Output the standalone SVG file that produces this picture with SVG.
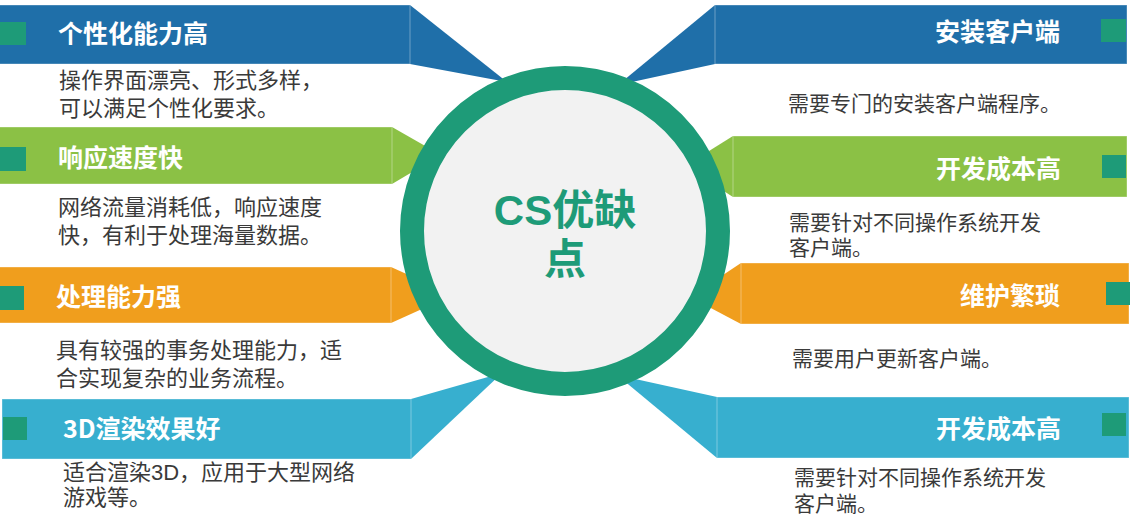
<svg xmlns="http://www.w3.org/2000/svg" width="1132" height="516" viewBox="0 0 1132 516">
<style>
.t{font-family:"Noto Sans CJK SC","Noto Sans",sans-serif;font-weight:700;font-size:25px;fill:#fff}
.d{font-family:"Liberation Sans","Noto Sans CJK SC",sans-serif;font-size:22px;fill:#3a3a3a}
.dr{font-family:"Liberation Sans","Noto Sans CJK SC",sans-serif;font-size:21px;fill:#3a3a3a}
.sq{fill:#1e9b78}
.blue{fill:#1f6fa9}
.green{fill:#8bc145}
.orange{fill:#f09e1d}
.cyan{fill:#37afcf}
.bar{stroke:#ffffff;stroke-opacity:0.35;stroke-width:1}
.c{font-family:"Liberation Sans","Noto Sans CJK SC",sans-serif;font-weight:700;font-size:42px;fill:#1e9b78}
</style>
<rect width="1132" height="516" fill="#ffffff"/>
<g id="connectors">
<polygon class="blue" points="410,5 507,82 410,64"/>
<polygon class="green" points="392,127 441,155 392,184"/>
<polygon class="orange" points="391,267 453,295 391,323"/>
<polygon class="cyan" points="411,399 502,373 411,459"/>
<polygon class="blue" points="715,5 618,85 715,64"/>
<polygon class="green" points="733,136 685,166 733,197"/>
<polygon class="orange" points="741,263 690,297 741,324"/>
<polygon class="cyan" points="717,397 617,375 717,458"/>
</g>
<g id="left1">
<rect class="blue bar" x="-1" y="5" width="411" height="59"/>
<rect class="sq" x="0" y="22" width="26" height="23"/>
<text class="t" x="58" y="43">个性化能力高</text>
<text class="d"><tspan x="59" y="88">操作界面漂亮、形式多样，</tspan><tspan x="59" y="116">可以满足个性化要求。</tspan></text>
</g>
<g id="left2">
<rect class="green bar" x="-1" y="127" width="393" height="57"/>
<rect class="sq" x="0" y="147" width="26" height="24"/>
<text class="t" x="58" y="167">响应速度快</text>
<text class="d"><tspan x="58" y="215">网络流量消耗低，响应速度</tspan><tspan x="58" y="243">快，有利于处理海量数据。</tspan></text>
</g>
<g id="left3">
<rect class="orange bar" x="-1" y="267" width="392" height="56"/>
<rect class="sq" x="0" y="286" width="24" height="24"/>
<text class="t" x="56" y="306">处理能力强</text>
<text class="d"><tspan x="56" y="358">具有较强的事务处理能力，适</tspan><tspan x="56" y="386">合实现复杂的业务流程。</tspan></text>
</g>
<g id="left4">
<rect class="cyan bar" x="2" y="399" width="409" height="60"/>
<rect class="sq" x="3" y="417" width="24" height="23"/>
<text class="t" x="63" y="438">3D渲染效果好</text>
<text class="d"><tspan x="63" y="480">适合渲染3D，应用于大型网络</tspan><tspan x="63" y="505">游戏等。</tspan></text>
</g>
<g id="right1">
<rect class="blue bar" x="715" y="5" width="412" height="59"/>
<rect class="sq" x="1101" y="19" width="25" height="23"/>
<text class="t" x="1060" y="41" text-anchor="end">安装客户端</text>
<text class="dr" x="788" y="111">需要专门的安装客户端程序。</text>
</g>
<g id="right2">
<rect class="green bar" x="733" y="136" width="394" height="61"/>
<rect class="sq" x="1102" y="155" width="24" height="23"/>
<text class="t" x="1061" y="178" text-anchor="end">开发成本高</text>
<text class="dr"><tspan x="789" y="230">需要针对不同操作系统开发</tspan><tspan x="789" y="255">客户端。</tspan></text>
</g>
<g id="right3">
<rect class="orange bar" x="741" y="263" width="388" height="61"/>
<rect class="sq" x="1106" y="282" width="24" height="23"/>
<text class="t" x="1060" y="305" text-anchor="end">维护繁琐</text>
<text class="dr" x="792" y="366">需要用户更新客户端。</text>
</g>
<g id="right4">
<rect class="cyan bar" x="717" y="397" width="412" height="61"/>
<rect class="sq" x="1102" y="413" width="24" height="23"/>
<text class="t" x="1061" y="438" text-anchor="end">开发成本高</text>
<text class="dr"><tspan x="794" y="485">需要针对不同操作系统开发</tspan><tspan x="794" y="511">客户端。</tspan></text>
</g>
<g id="center">
<circle cx="565" cy="231" r="153" fill="#f2f2f2" stroke="#1e9b78" stroke-width="24"/>
<text class="c" text-anchor="middle"><tspan x="565" y="225">CS优缺</tspan><tspan x="565" y="274">点</tspan></text>
</g>
</svg>
